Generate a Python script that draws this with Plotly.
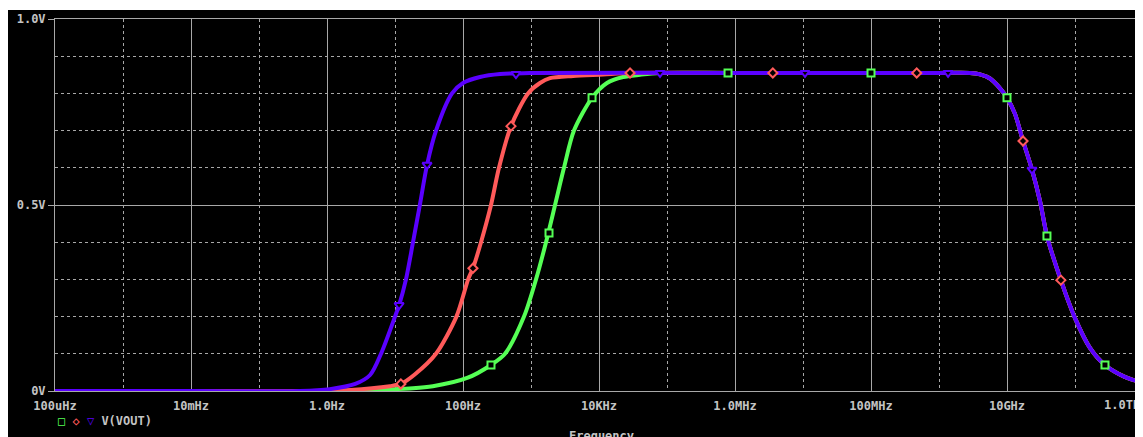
import plotly.graph_objects as go

# ---------------- data ----------------
# shared high-frequency roll-off (all three traces coincide there)
hf_freq = [1e6, 1e8, 1e9, 2.86e9, 4.01e9, 5.62e9, 7.62e9, 1.0e10, 1.31e10, 1.72e10,
           2.33e10, 3.06e10, 3.87e10, 6.2e10, 1.0e11, 1.66e11, 2.76e11, 5.4e11, 1.0e12]
hf_volt = [0.855, 0.855, 0.855, 0.855, 0.851, 0.840, 0.817, 0.788, 0.745, 0.672,
           0.595, 0.510, 0.417, 0.298, 0.196, 0.116, 0.070, 0.038, 0.022]

# green trace low-frequency side
green_freq = [1e-4, 0.01, 0.4, 6.0, 36, 115, 258, 415, 789, 1185, 1663, 2257, 3055,
              4285, 7900, 13100, 22600, 40000, 79000]
green_volt = [0, 0, 0, 0.003, 0.013, 0.035, 0.070, 0.10, 0.20, 0.30, 0.40, 0.50, 0.60,
              0.70, 0.788, 0.828, 0.844, 0.850, 0.855]

# red trace low-frequency side
red_freq = [1e-4, 0.01, 0.4, 2.2, 8.4, 12.2, 19.7, 40, 80, 119, 140, 184, 258, 338,
            508, 904, 1356, 1900, 4150, 11500, 28600]
red_volt = [0, 0, 0, 0.003, 0.013, 0.019, 0.045, 0.10, 0.20, 0.30, 0.33, 0.40, 0.50,
            0.60, 0.712, 0.80, 0.828, 0.841, 0.847, 0.851, 0.855]

# blue trace low-frequency side
blue_freq = [1e-4, 0.01, 0.4, 1.1, 2.6, 4.3, 6.22, 10.0, 11.5, 14.5, 18.4, 23.2, 29.6,
             40.1, 68.9, 100, 178, 350, 970]
blue_volt = [0, 0, 0, 0.005, 0.019, 0.043, 0.10, 0.20, 0.231, 0.30, 0.40, 0.50, 0.608,
             0.70, 0.80, 0.828, 0.844, 0.852, 0.855]

# marker positions
green_mk_freq = [258, 1840, 7900, 7.9e5, 1.0e8, 1.0e10, 3.87e10, 2.76e11]
green_mk_volt = [0.070, 0.425, 0.788, 0.855, 0.855, 0.788, 0.417, 0.070]
red_mk_freq = [12.2, 140, 508, 2.86e4, 3.6e6, 4.7e8, 1.72e10, 6.2e10]
red_mk_volt = [0.019, 0.33, 0.712, 0.855, 0.855, 0.855, 0.672, 0.298]
blue_mk_freq = [11.5, 29.6, 601, 7.9e4, 1.07e7, 1.36e9, 2.33e10]
blue_mk_volt = [0.231, 0.608, 0.852, 0.855, 0.855, 0.855, 0.595]

x_tickvals = [1e-4, 1e-2, 1, 1e2, 1e4, 1e6, 1e8, 1e10]
x_ticktext = ["100uHz", "10mHz", "1.0Hz", "100Hz", "10KHz", "1.0MHz", "100MHz", "10GHz"]
x_minor = [1e-3, 1e-1, 10, 1e3, 1e5, 1e7, 1e9, 1e11]
y_tickvals = [0, 0.5, 1.0]
y_ticktext = ["0V", "0.5V", "1.0V"]
y_minor = [0.1, 0.2, 0.3, 0.4, 0.6, 0.7, 0.8, 0.9]

GREEN = "#55ff55"
RED = "#ff5a5a"
BLUE = "#5a00ff"
TXT = "#c4c4c4"
GRID = "#a8a8a8"
FONT = "DejaVu Sans Mono"

OFF = 8  # page body margin
W, H = 1143 - OFF, 437 - OFF
ML, MR, MT = 55 - OFF, 0, 19 - OFF
PH = 372
MB = H - MT - PH
PW = W - ML - MR


def px_to_paper_x(px):
    return (px - OFF - ML) / PW


def px_to_paper_y(py):
    return (H - MB - (py - OFF)) / PH


fig = go.Figure()

for f_lo, v_lo, col in [(green_freq, green_volt, GREEN),
                        (red_freq, red_volt, RED),
                        (blue_freq, blue_volt, BLUE)]:
    xs = list(f_lo) + [f for f in hf_freq if f > f_lo[-1]]
    ys = list(v_lo) + [v for f, v in zip(hf_freq, hf_volt) if f > f_lo[-1]]
    fig.add_trace(go.Scatter(x=xs, y=ys, mode="lines",
                             line=dict(color=col, width=4, shape="spline", smoothing=0.8),
                             showlegend=False, hoverinfo="skip"))

for fx, vy, col, sym, sz in [(green_mk_freq, green_mk_volt, GREEN, "square", 7),
                             (red_mk_freq, red_mk_volt, RED, "diamond", 7),
                             (blue_mk_freq, blue_mk_volt, BLUE, "triangle-down", 8)]:
    fig.add_trace(go.Scatter(x=fx, y=vy, mode="markers", cliponaxis=False,
                             marker=dict(symbol=sym, size=sz, color="black",
                                         line=dict(color=col, width=2)),
                             showlegend=False, hoverinfo="skip"))

tfont = dict(family=FONT, size=12, color=TXT, weight="bold")

fig.update_xaxes(type="log", range=[-4, -4 + PW / 68.0],
                 tickmode="array", tickvals=x_tickvals, ticktext=x_ticktext,
                 showgrid=True, gridcolor=GRID, gridwidth=1,
                 showline=True, linecolor=GRID, linewidth=1, mirror=True,
                 ticks="outside", ticklen=4, tickcolor="rgba(0,0,0,0)",
                 zeroline=False, tickfont=tfont,
                 minor=dict(tickmode="array", tickvals=x_minor, showgrid=True,
                            gridcolor=GRID, griddash="3px,3px", gridwidth=1, ticks=""))

fig.update_yaxes(range=[0, 1.0], tickmode="array", tickvals=y_tickvals, ticktext=y_ticktext,
                 showgrid=True, gridcolor=GRID, gridwidth=1,
                 showline=True, linecolor=GRID, linewidth=1, mirror=True,
                 ticks="outside", ticklen=6, tickcolor=GRID, zeroline=False,
                 tickfont=tfont,
                 minor=dict(tickmode="array", tickvals=y_minor, showgrid=True,
                            gridcolor=GRID, griddash="3px,3px", gridwidth=1, ticks=""))

# black panel (white strips at top and left like the reference)
fig.add_shape(type="rect", xref="paper", yref="paper", layer="below",
              x0=px_to_paper_x(OFF - 1), x1=1.02,
              y0=px_to_paper_y(437 + 10), y1=px_to_paper_y(10),
              fillcolor="black", line=dict(width=0))

fig.add_annotation(xref="paper", yref="paper", x=px_to_paper_x(1102), y=px_to_paper_y(405),
                   xanchor="left", yanchor="middle", showarrow=False, text="1.0THz",
                   font=tfont)
fig.add_annotation(xref="paper", yref="paper", x=px_to_paper_x(601), y=px_to_paper_y(436),
                   xanchor="center", yanchor="middle", showarrow=False, text="Frequency",
                   font=tfont)
fig.add_annotation(xref="paper", yref="paper", x=px_to_paper_x(56), y=px_to_paper_y(421),
                   xanchor="left", yanchor="middle", showarrow=False,
                   text=(f"<span style='color:{GREEN}'>□</span> "
                         f"<span style='color:{RED}'>◇</span> "
                         f"<span style='color:{BLUE}'>▽</span> V(VOUT)"),
                   font=tfont)

fig.update_layout(width=W, height=H, autosize=False,
                  margin=dict(l=ML, r=MR, t=MT, b=MB, pad=0),
                  paper_bgcolor="white", plot_bgcolor="black",
                  showlegend=False)

fig.write_html("out.html")
